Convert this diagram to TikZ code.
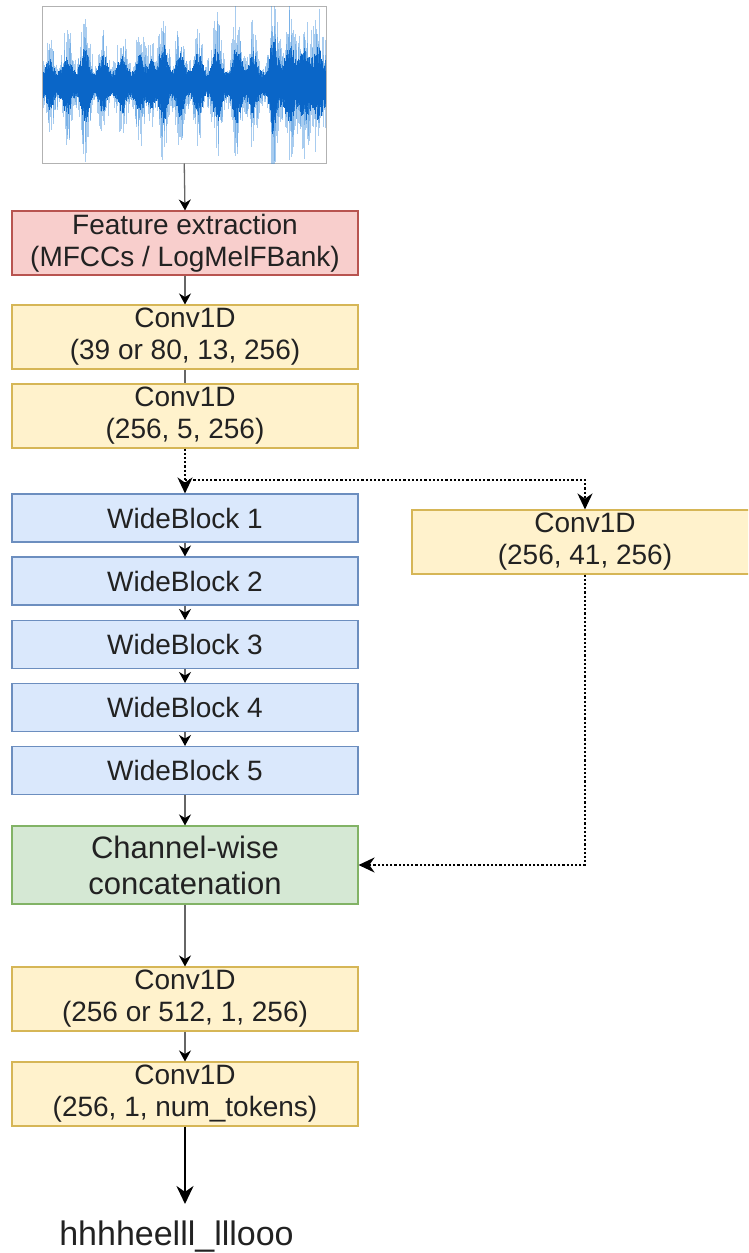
\documentclass[tikz,border=0pt]{standalone}
\usepackage{fontspec}
\setmainfont{Liberation Sans}
\usetikzlibrary{arrows.meta}
\definecolor{redfill}{HTML}{F8CECC}
\definecolor{redline}{HTML}{B85450}
\definecolor{yelfill}{HTML}{FFF2CC}
\definecolor{yelline}{HTML}{D6B656}
\definecolor{blufill}{HTML}{DAE8FC}
\definecolor{bluline}{HTML}{6C8EBF}
\definecolor{grnfill}{HTML}{D5E8D4}
\definecolor{grnline}{HTML}{82B366}
\definecolor{wavedk}{HTML}{0A66C8}
\definecolor{wavelt}{HTML}{3F8FDC}
\definecolor{txt}{HTML}{222222}
\begin{document}
\begin{tikzpicture}[x=1pt,y=-1pt,
  box/.style={minimum width=346pt, minimum height=64pt, inner sep=0pt, align=center,
    font=\fontsize{28}{32}\selectfont, text=txt, line width=1.1pt},
  redbox/.style={box, fill=redfill, draw=redline},
  yelbox/.style={box, fill=yelfill, draw=yelline},
  blubox/.style={box, fill=blufill, draw=bluline, minimum height=48pt},
  grnbox/.style={box, fill=grnfill, draw=grnline, minimum height=78pt, font=\fontsize{31}{36}\selectfont},
  conn/.style={draw=black!60, line width=1.3pt, -{Stealth[length=11pt,width=12pt,color=black]}},
  plainconn/.style={draw=black!60, line width=1.3pt},
  dotconn/.style={draw=black, line width=2.2pt, dash pattern=on 2.2pt off 2pt, -{Stealth[length=16pt,width=15pt,color=black]}},
  thickconn/.style={draw=black, line width=2.6pt, -{Stealth[length=18pt,width=17pt]}},
  wl/.style={draw=wavelt, line width=0.7pt, opacity=0.45},
  wd/.style={draw=wavedk, line width=0.7pt},
]
\useasboundingbox (0,0) rectangle (748,1253);
\clip (0,0) rectangle (748,1253);

% waveform
\node[draw=black!30, line width=1pt, minimum width=283.5pt, minimum height=156.5pt, inner sep=0pt] (wave) at (184.25,84.75) {};
\begin{scope}
\clip (42.5,6.5) rectangle (326,163);
\pgfmathsetseed{7}
\foreach \x in {43,43.5,...,325.5}{
  \pgfmathsetmacro\e{35*exp(-((\x-50)/5)^2)+50*exp(-((\x-67)/5)^2)+70*exp(-((\x-85)/5)^2)
     +45*exp(-((\x-103)/5)^2)+45*exp(-((\x-122)/5)^2)+50*exp(-((\x-140)/5)^2)
     +35*exp(-((\x-151)/4)^2)+75*exp(-((\x-163)/5)^2)+55*exp(-((\x-180)/5)^2)
     +50*exp(-((\x-198)/5)^2)+68*exp(-((\x-217)/5)^2)+75*exp(-((\x-237)/5)^2)
     +55*exp(-((\x-253)/5)^2)+75*exp(-((\x-273)/4)^2)+45*exp(-((\x-290)/5)^2)
     +40*exp(-((\x-305)/5)^2)+40*exp(-((\x-318)/5)^2)+(\x>270)*25}
  \pgfmathsetmacro\hu{(22+0.85*\e)*(0.3+0.7*rnd^1.5)}
  \pgfmathsetmacro\hd{(22+0.85*\e)*(0.3+0.7*rnd^1.5)}
  \pgfmathsetmacro\ku{(12+0.4*\e)*(0.55+0.45*rnd)}
  \pgfmathsetmacro\kd{(12+0.4*\e)*(0.55+0.45*rnd)}
  \draw[wl] (\x,84-\hu) -- (\x,84+\hd);
  \draw[wd] (\x,84-\ku) -- (\x,84+\kd);
}
\end{scope}

% main column
\node[redbox] (fe) at (185,243) {Feature extraction\\(MFCCs / LogMelFBank)};
\node[yelbox] (c1) at (185,337) {Conv1D\\(39 or 80, 13, 256)};
\node[yelbox] (c2) at (185,416) {Conv1D\\(256, 5, 256)};
\node[blubox] (wb1) at (185,518) {WideBlock 1};
\node[blubox] (wb2) at (185,581) {WideBlock 2};
\node[blubox] (wb3) at (185,644.5) {WideBlock 3};
\node[blubox] (wb4) at (185,707.5) {WideBlock 4};
\node[blubox] (wb5) at (185,770.5) {WideBlock 5};
\node[grnbox] (cat) at (185,865) {Channel-wise\\concatenation};
\node[yelbox] (c3) at (185,999) {Conv1D\\(256 or 512, 1, 256)};
\node[yelbox] (c4) at (185,1094) {Conv1D\\(256, 1, num\_tokens)};
\node[yelbox] (cr) at (585,542) {Conv1D\\(256, 41, 256)};
\node[anchor=base, inner sep=0pt, font=\fontsize{34}{40}\selectfont, text=txt] (out) at (176.5,1245) {hhhheelll\_lllooo};

\coordinate (br) at (185,480);
\coordinate (tip) at (185,1204);

% connectors
\draw[conn] (wave.south) -- (fe.north);
\draw[conn] (fe.south) -- (c1.north);
\draw[plainconn] (c1.south) -- (c2.north);
\draw[dotconn] (c2.south) -- (wb1.north);
\draw[dotconn] (br) -| (cr.north);
\draw[conn] (wb1.south) -- (wb2.north);
\draw[conn] (wb2.south) -- (wb3.north);
\draw[conn] (wb3.south) -- (wb4.north);
\draw[conn] (wb4.south) -- (wb5.north);
\draw[conn] (wb5.south) -- (cat.north);
\draw[dotconn] (cr.south) |- (cat.east);
\draw[conn] (cat.south) -- (c3.north);
\draw[conn] (c3.south) -- (c4.north);
\draw[thickconn] (c4.south) -- (tip);
\end{tikzpicture}
\end{document}
